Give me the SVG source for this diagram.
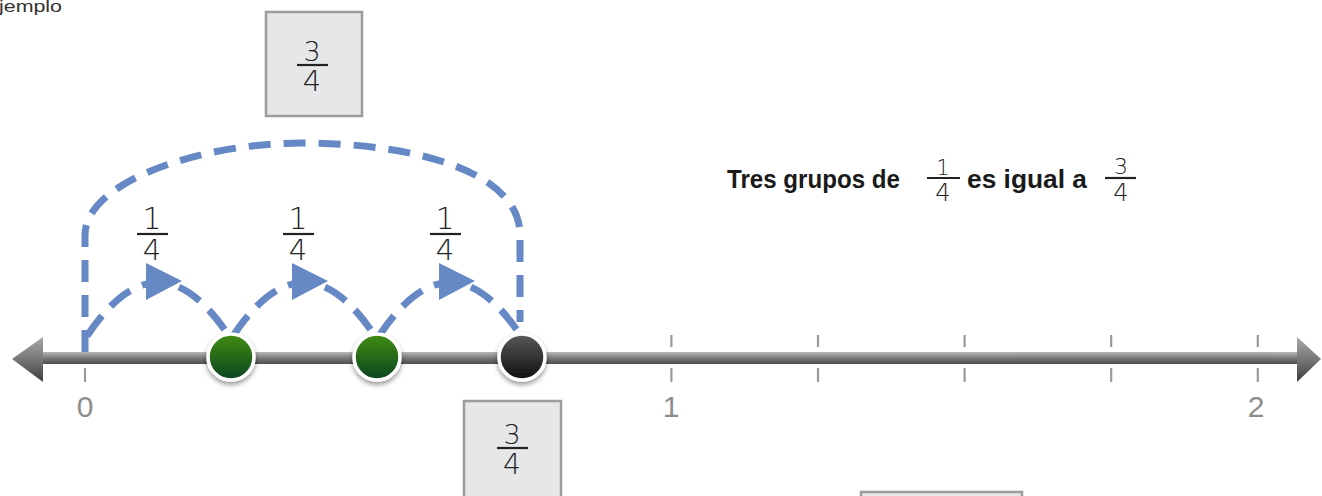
<svg xmlns="http://www.w3.org/2000/svg" width="1322" height="496" viewBox="0 0 1322 496">
<defs>
<linearGradient id="barG" x1="0" y1="0" x2="0" y2="1">
<stop offset="0" stop-color="#b8b8b8"/><stop offset="0.5" stop-color="#7a7a7a"/><stop offset="1" stop-color="#4e4e4e"/>
</linearGradient>
<linearGradient id="headG" x1="0" y1="0" x2="0" y2="1">
<stop offset="0" stop-color="#a8a8a8"/><stop offset="0.5" stop-color="#777"/><stop offset="1" stop-color="#3c3c3c"/>
</linearGradient>
<linearGradient id="greenG" x1="0" y1="0" x2="0" y2="1">
<stop offset="0" stop-color="#428c10"/><stop offset="1" stop-color="#0a4624"/>
</linearGradient>
<linearGradient id="blackG" x1="0" y1="0" x2="0" y2="1">
<stop offset="0" stop-color="#5a5a5a"/><stop offset="1" stop-color="#0e0e0e"/>
</linearGradient>
<filter id="sh" x="-40%" y="-40%" width="180%" height="180%">
<feDropShadow dx="0" dy="3" stdDeviation="2.5" flood-color="#000" flood-opacity="0.4"/>
</filter>
</defs>
<style>
.box{fill:#e6e7e9;stroke:#9c9c9c;stroke-width:2.5}
.dig{font-family:"DejaVu Sans","Liberation Sans",sans-serif;font-weight:200;fill:#222;text-anchor:middle}
.fl{stroke:#222;stroke-width:2.2}
.tick{stroke:#999;stroke-width:2.2}
.lab{font-family:"Liberation Sans","DejaVu Sans",sans-serif;fill:#8d8d8d;font-size:30px;text-anchor:middle}
.big{fill:none;stroke:#6689c6;stroke-width:7;stroke-dasharray:22 13}
.arc{fill:none;stroke:#6689c6;stroke-width:7;stroke-dasharray:25 13}
.tri{fill:#6689c6}
.ring{stroke:#fff;stroke-width:3.5}
.main{font-family:"Liberation Sans","DejaVu Sans",sans-serif;font-weight:bold;font-size:25px;fill:#1a1a1a}
</style>
<rect width="1322" height="496" fill="#fff"/>
<text x="-1" y="12" font-family="Liberation Sans, sans-serif" font-size="16" fill="#333" textLength="63" lengthAdjust="spacingAndGlyphs">jemplo</text>

<g id="numberline">
<rect x="42" y="352" width="1256" height="12" fill="url(#barG)"/>
<polygon points="12,359 43,337 43,382" fill="url(#headG)"/>
<polygon points="1321,359 1297,337 1297,382" fill="url(#headG)"/>
<g class="tick">
<line x1="85" y1="335" x2="85" y2="346"/><line x1="85" y1="368" x2="85" y2="382"/>
<line x1="671.4" y1="335" x2="671.4" y2="347"/><line x1="671.4" y1="368" x2="671.4" y2="382"/>
<line x1="818" y1="335" x2="818" y2="347"/><line x1="818" y1="368" x2="818" y2="382"/>
<line x1="964.6" y1="335" x2="964.6" y2="347"/><line x1="964.6" y1="368" x2="964.6" y2="382"/>
<line x1="1111.2" y1="335" x2="1111.2" y2="347"/><line x1="1111.2" y1="368" x2="1111.2" y2="382"/>
<line x1="1257.8" y1="335" x2="1257.8" y2="347"/><line x1="1257.8" y1="368" x2="1257.8" y2="382"/>
</g>
<text class="lab" x="85" y="417">0</text>
<text class="lab" x="671" y="417">1</text>
<text class="lab" x="1256" y="417">2</text>
</g>

<g id="connectors">
<path class="big" d="M85,352 V235 C85,182 200,143 302,143 C410,143 520,170 520,235 V322"/>
<path class="arc" d="M87,336 Q158,229 229,336"/>
<path class="arc" d="M233,336 Q304,229 375,336"/>
<path class="arc" d="M379,336 Q450,229 521,336"/>
<polygon class="tri" points="146,263 146,300 182,281"/>
<polygon class="tri" points="292,263 292,300 328,281"/>
<polygon class="tri" points="439,263 439,300 475,281"/>
</g>

<g id="point1"><circle class="ring" cx="231" cy="357" r="23" fill="url(#greenG)" filter="url(#sh)"/></g>
<g id="point2"><circle class="ring" cx="377" cy="357" r="23" fill="url(#greenG)" filter="url(#sh)"/></g>
<g id="point3"><circle class="ring" cx="522" cy="357" r="23" fill="url(#blackG)" filter="url(#sh)"/></g>

<g id="jump1-label">
<text class="dig" x="152" y="229" font-size="30">1</text><line class="fl" x1="137" y1="234" x2="168" y2="234"/><text class="dig" x="152" y="260" font-size="29">4</text>
</g>
<g id="jump2-label">
<text class="dig" x="298" y="229" font-size="30">1</text><line class="fl" x1="283" y1="234" x2="314" y2="234"/><text class="dig" x="298" y="260" font-size="29">4</text>
</g>
<g id="jump3-label">
<text class="dig" x="445" y="229" font-size="30">1</text><line class="fl" x1="430" y1="234" x2="461" y2="234"/><text class="dig" x="445" y="260" font-size="29">4</text>
</g>

<g id="box-top">
<rect class="box" x="266" y="12" width="96" height="104"/>
<text class="dig" x="312" y="61" font-size="27">3</text><line class="fl" x1="297" y1="65" x2="328" y2="65"/><text class="dig" x="312" y="91" font-size="29">4</text>
</g>

<g id="box-bottom">
<rect class="box" x="464" y="401" width="97" height="110"/>
<text class="dig" x="512" y="444" font-size="27">3</text><line class="fl" x1="497" y1="448" x2="528" y2="448"/><text class="dig" x="512" y="474" font-size="28">4</text>
</g>

<g id="box-bottom2">
<rect class="box" x="861" y="492" width="161" height="20"/>
</g>

<g id="statement">
<text class="main" x="727" y="188" textLength="173" lengthAdjust="spacingAndGlyphs">Tres grupos de</text>
<text class="dig" x="943" y="175" font-size="21">1</text><line class="fl" x1="927" y1="178" x2="960" y2="178"/><text class="dig" x="943" y="201" font-size="24">4</text>
<text class="main" x="967" y="188" textLength="120" lengthAdjust="spacingAndGlyphs">es igual a</text>
<text class="dig" x="1121" y="174" font-size="22">3</text><line class="fl" x1="1105" y1="178" x2="1136" y2="178"/><text class="dig" x="1121" y="201" font-size="24">4</text>
</g>
</svg>
